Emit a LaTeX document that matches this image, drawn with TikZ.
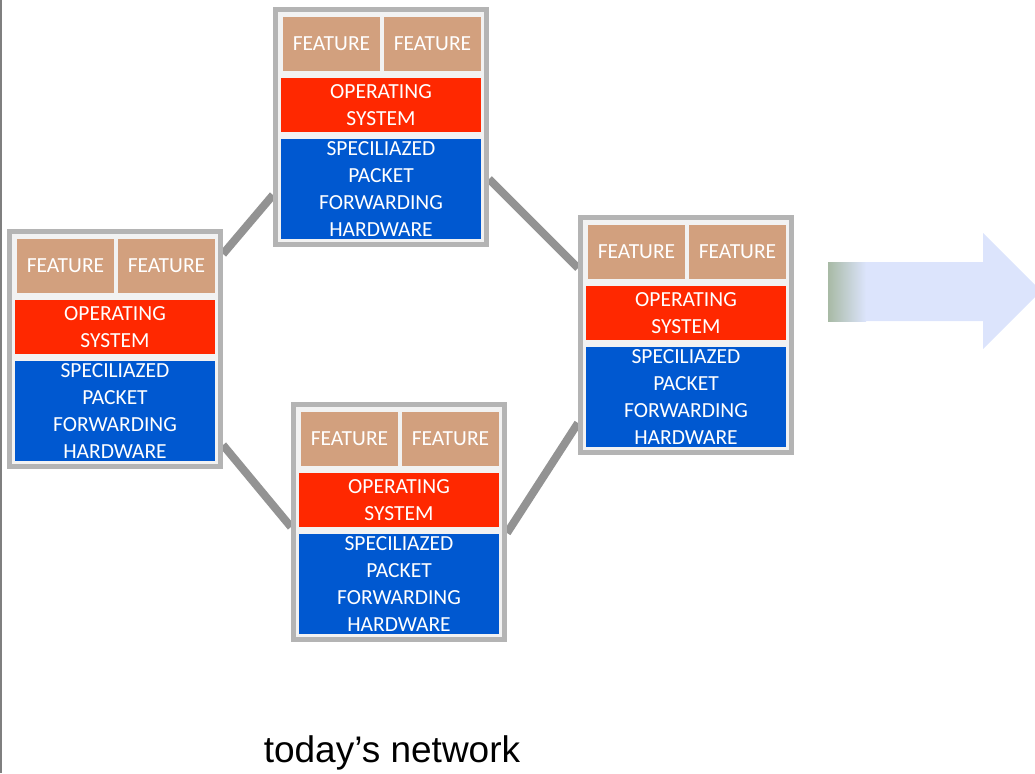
\documentclass[tikz,border=0pt]{standalone}
\usepackage{fontspec}
\setmainfont{Liberation Sans}
\newfontfamily\boxfont{Carlito}
\usetikzlibrary{backgrounds}

\definecolor{featfill}{HTML}{D2A07E}
\definecolor{osfill}{HTML}{FF2800}
\definecolor{hwfill}{HTML}{0058D0}
\definecolor{rackline}{HTML}{B4B4B4}
\definecolor{rackfill}{HTML}{F2F2F2}
\definecolor{linkgray}{HTML}{939393}
\definecolor{arrowblue}{HTML}{DCE4FC}
\definecolor{arrowgreen}{HTML}{A8BAA5}
\definecolor{edgegray}{HTML}{7F7F7F}

\tikzset{
  layer/.style={inner sep=0pt, outer sep=0pt, text=white, align=center,
    font=\boxfont\fontsize{21.5}{26.7}\selectfont},
  featurebox/.style={layer, fill=featfill, minimum width=97pt, minimum height=54pt},
  osbox/.style={layer, fill=osfill, minimum width=200pt, minimum height=54pt},
  hwbox/.style={layer, fill=hwfill, minimum width=200pt, minimum height=100pt},
  rackframe/.style={draw=rackline, line width=5pt, fill=rackfill,
    minimum width=211pt, minimum height=235pt, inner sep=0pt},
  link/.style={draw=linkgray, line width=8pt},
  pics/router/.style={code={
    \node[rackframe] (-frame) at (108,120) {};
    \node[featurebox] (-fa) at (58.5,37) {FEATURE};
    \node[featurebox] (-fb) at (159.5,37) {FEATURE};
    \node[osbox] (-os) at (108,98) {OPERATING\\SYSTEM};
    \node[hwbox] (-hw) at (108,182) {SPECILIAZED\\PACKET\\FORWARDING\\HARDWARE};
  }}
}

\begin{document}
\begin{tikzpicture}[x=1pt, y=-1pt]
  \useasboundingbox (0,0) rectangle (1035,773);
  \clip (0,0) rectangle (1035,773);

  % left page edge
  \draw[edgegray, line width=2pt] (1,0) -- (1,773);

  % the four boxes
  \pic (L) at (7,229) {router};
  \pic (T) at (273,7) {router};
  \pic (R) at (578,215) {router};
  \pic (B) at (291,402) {router};

  % links between boxes, kept underneath
  \begin{pgfonlayer}{background}
    \draw[link] ([yshift=-25pt]L-frame.north east) -- ([yshift=52pt]T-frame.south west);
    \draw[link] ([yshift=24pt]L-frame.south east) -- ([yshift=-125pt]B-frame.north west);
    \draw[link] ([yshift=68pt]T-frame.south east) -- ([yshift=-53pt]R-frame.north west);
    \draw[link] ([yshift=-131pt]B-frame.north east) -- ([yshift=32pt]R-frame.south west);
  \end{pgfonlayer}

  % block arrow on the right
  \fill[arrowblue] (828,262) -- (983,262) -- (983,233) -- (1041,291) -- (983,349)
    -- (983,321) -- (828,321) -- cycle;
  \shade[left color=arrowgreen, right color=arrowblue] (828,262) rectangle (866,321);

  % caption
  \node[anchor=base, font=\fontsize{37}{44}\selectfont, inner sep=0pt] (caption)
    at (392,762) {today’s network};
\end{tikzpicture}
\end{document}
